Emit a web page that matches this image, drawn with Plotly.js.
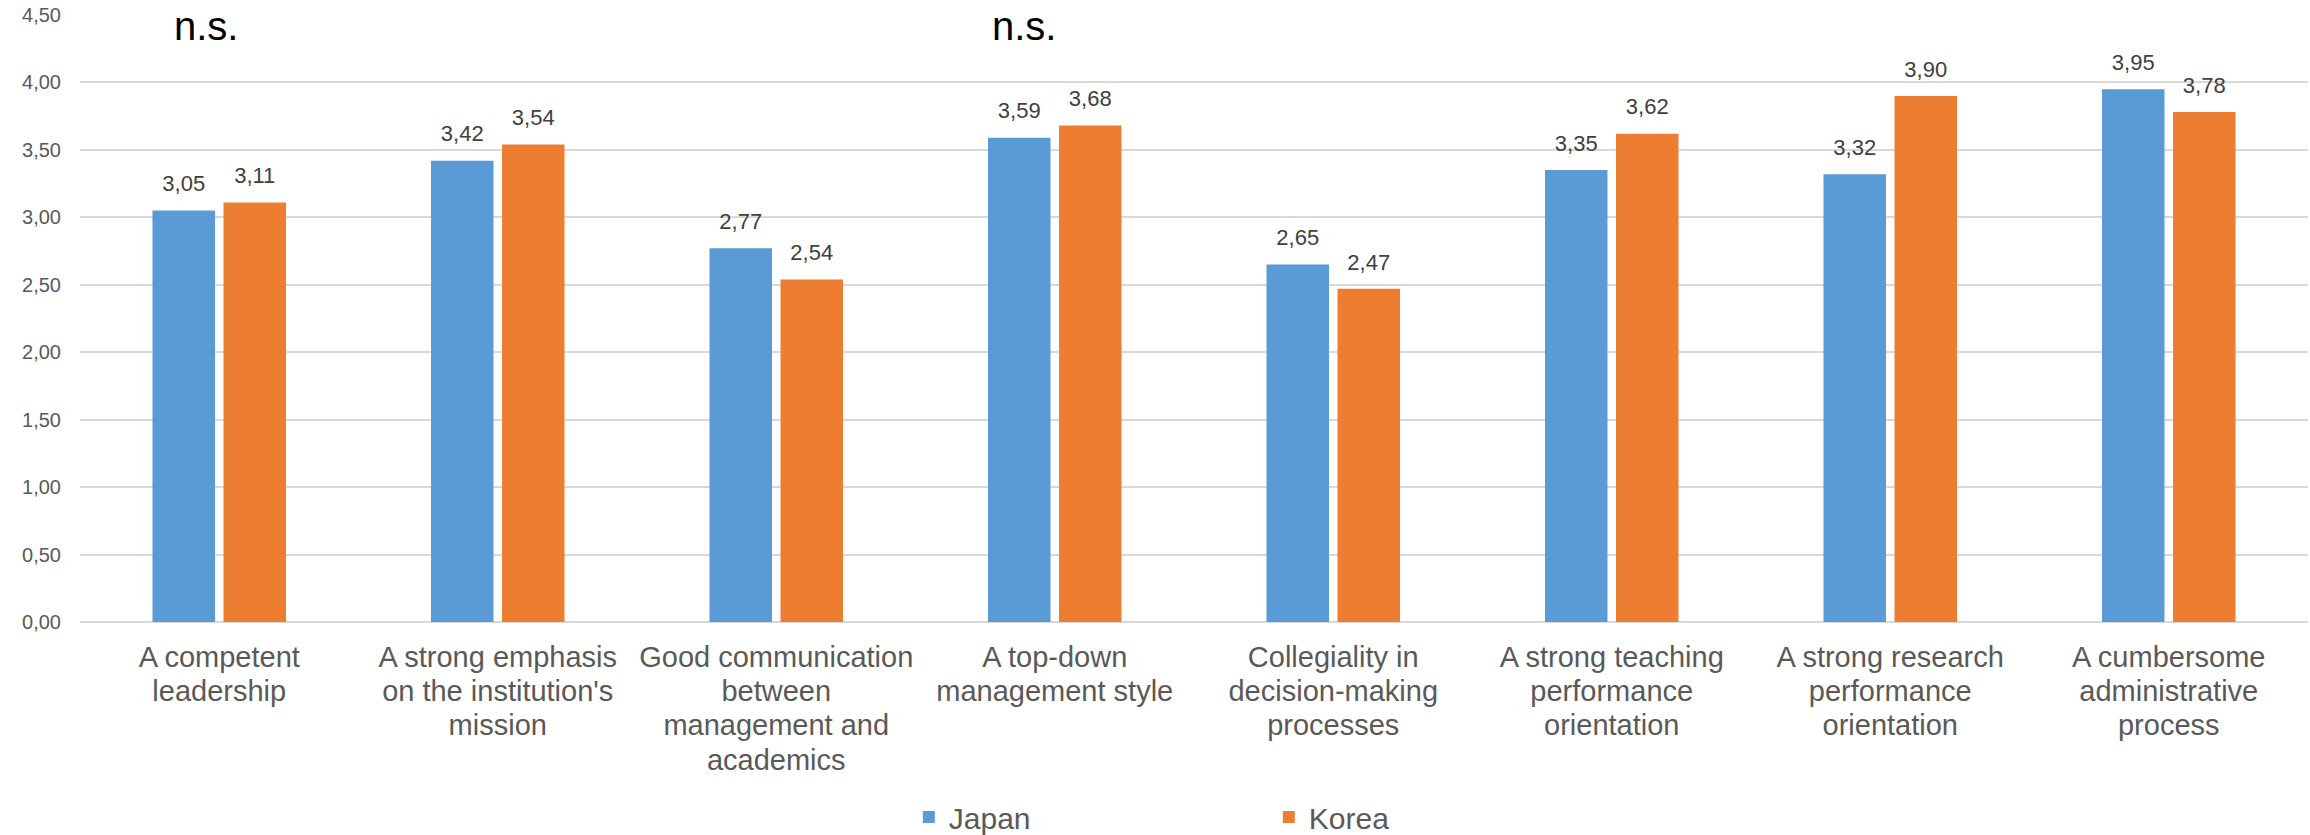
<!DOCTYPE html>
<html>
<head>
<meta charset="utf-8">
<script src="https://cdn.plot.ly/plotly-3.0.1.min.js"></script>
<style>html,body{margin:0;padding:0;background:#fff;}</style>
</head>
<body>
<div id="chart" style="width:2310px;height:835px;"></div>
<script>
const categories = [
  "A competent<br>leadership",
  "A strong emphasis<br>on the institution's<br>mission",
  "Good communication<br>between<br>management and<br>academics",
  "A top-down<br>management style",
  "Collegiality in<br>decision-making<br>processes",
  "A strong teaching<br>performance<br>orientation",
  "A strong research<br>performance<br>orientation",
  "A cumbersome<br>administrative<br>process"
];
const japan = [3.05, 3.42, 2.77, 3.59, 2.65, 3.35, 3.32, 3.95];
const korea = [3.11, 3.54, 2.54, 3.68, 2.47, 3.62, 3.90, 3.78];
const seriesNames = ["Japan", "Korea"];
const nsCategories = [categories[0], categories[3]];
const nsLabel = "n.s.";
const yTickVals = [0, 0.5, 1, 1.5, 2, 2.5, 3, 3.5, 4, 4.5];

// tick labels: larger glyphs on a tighter line pitch
const tickText = categories.map(c =>
  c.split('<br>').map(l => '<span style="font-size:29px">' + l + '</span>').join('<br>'));

const labelTemplate = '<span style="font-size:22px">%{y:.2f}</span><br> ';

const traces = [
  {
    type: 'bar', name: seriesNames[0], x: categories, y: japan,
    marker: {color: '#5B9BD5'},
    texttemplate: labelTemplate, textposition: 'outside',
    textfont: {family: 'Liberation Sans, Arial, sans-serif', size: 11, color: '#404040'},
    cliponaxis: false, hoverinfo: 'skip'
  },
  {
    type: 'bar', name: seriesNames[1], x: categories, y: korea,
    marker: {color: '#ED7D31'},
    texttemplate: labelTemplate, textposition: 'outside',
    textfont: {family: 'Liberation Sans, Arial, sans-serif', size: 11, color: '#404040'},
    cliponaxis: false, hoverinfo: 'skip'
  }
];

const nsShifts = [-13, -31];
const annotations = nsCategories.map((c, i) => ({
  x: c, y: 4.5, xref: 'x', yref: 'y',
  text: nsLabel, showarrow: false,
  xanchor: 'center', yanchor: 'top', xshift: nsShifts[i], yshift: 13,
  font: {family: 'Liberation Sans, Arial, sans-serif', size: 40, color: '#000000'}
}));

const layout = {
  width: 2310, height: 835,
  margin: {l: 80, r: 2, t: 15, b: 213, pad: 0},
  paper_bgcolor: '#ffffff', plot_bgcolor: '#ffffff',
  separators: ', ',
  barmode: 'group', bargap: 0.49, bargroupgap: 0.12,
  showlegend: true,
  legend: {
    orientation: 'h', xref: 'paper', x: 0.372, xanchor: 'left',
    yref: 'container', y: 0.0216, yanchor: 'middle',
    entrywidth: 315, entrywidthmode: 'pixels',
    font: {family: 'Liberation Sans, Arial, sans-serif', size: 30, color: '#595959'},
    bgcolor: 'rgba(0,0,0,0)'
  },
  xaxis: {
    type: 'category', showgrid: false, showline: false, ticks: '',
    tickmode: 'array', tickvals: categories, ticktext: tickText,
    tickfont: {family: 'Liberation Sans, Arial, sans-serif', size: 26.5, color: '#595959'},
    ticklabelstandoff: 17, automargin: false
  },
  yaxis: {
    range: [0, 4.5], tickvals: yTickVals, tickformat: '.2f',
    showgrid: true, gridcolor: '#D9D9D9', gridwidth: 2,
    zeroline: true, zerolinecolor: '#D9D9D9', zerolinewidth: 2,
    showline: false, ticks: '',
    tickfont: {family: 'Liberation Sans, Arial, sans-serif', size: 20, color: '#595959'},
    ticklabelstandoff: 18, automargin: false
  },
  annotations: annotations
};

Plotly.newPlot('chart', traces, layout, {displayModeBar: false, staticPlot: true});
</script>
</body>
</html>
